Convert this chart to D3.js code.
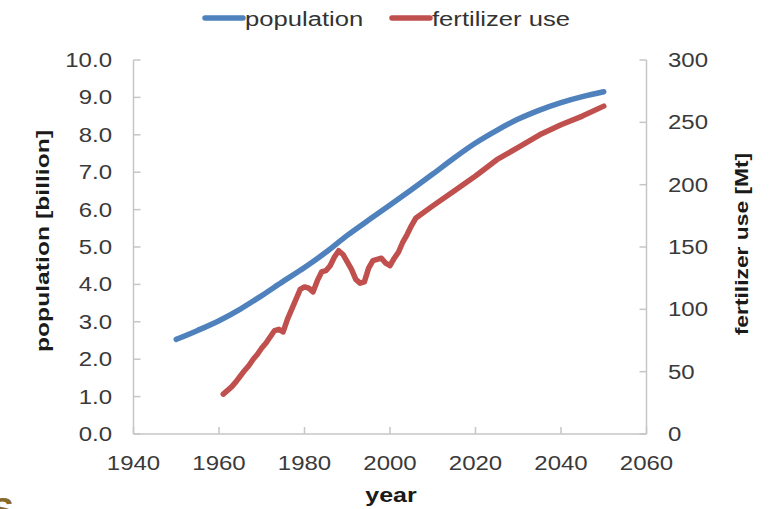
<!DOCTYPE html>
<html>
<head>
<meta charset="utf-8">
<script src="https://cdn.jsdelivr.net/npm/d3@7"></script>
<style>
  html, body { margin: 0; padding: 0; background: #fff; }
  svg { display: block; font-family: "Liberation Sans", Arial, sans-serif; }
</style>
</head>
<body>
<svg id="chart" width="772" height="509"></svg>
<script>
// ---- data ----
const popYears = [1950,1955,1960,1965,1970,1975,1980,1985,1990,1995,2000,2005,2010,2015,2020,2025,2030,2035,2040,2045,2050];
const popValues = [2.53,2.77,3.03,3.34,3.70,4.08,4.45,4.86,5.31,5.72,6.12,6.53,6.95,7.38,7.78,8.12,8.42,8.66,8.86,9.02,9.15];

const fertYears = [1961,1962,1963,1964,1965,1966,1967,1968,1969,1970,1971,1972,1973,1974,1975,1976,1977,1978,1979,1980,1981,1982,1983,1984,1985,1986,1987,1988,1989,1990,1991,1992,1993,1994,1995,1996,1997,1998,1999,2000,2001,2002,2003,2004,2005,2006,2010,2015,2020,2025,2030,2035,2040,2045,2050];
const fertValues = [32,35,38,42,46.5,51,55,60,64,69,73,78,83,84,82,92,100,108,116,118,117,114,123,130,131,135,142,147,144,138,132,124,121,122,133,139,140,141,137,135,141,146,154,160,167,173,183,195,207,220,230,240,248,255,263];

const xTicks = [1940,1960,1980,2000,2020,2040,2060];
const yLeftTicks = [0,1,2,3,4,5,6,7,8,9,10];
const yRightTicks = [0,50,100,150,200,250,300];

const seriesNames = ["population", "fertilizer use"];
const seriesColors = ["#4f81bd", "#c0504d"];

// ---- layout ----
const svg = d3.select("#chart");
const L = 133.5, R = 646.5, T = 60, B = 434;
const STRETCH = 1.2;

const x = d3.scaleLinear().domain([1940, 2060]).range([L, R]);
const yL = d3.scaleLinear().domain([0, 10]).range([B, T]);
const yR = d3.scaleLinear().domain([0, 300]).range([B, T]);

function stretch(sel, k) {
  sel.each(function() {
    const len = this.getComputedTextLength();
    d3.select(this).attr("textLength", len * (k || STRETCH)).attr("lengthAdjust", "spacingAndGlyphs");
  });
  return sel;
}

const axisColor = "#c6c6c6";
const tickColor = "#3a3a3a";

// axes lines
svg.append("line").attr("x1", L).attr("x2", L).attr("y1", T).attr("y2", B).attr("stroke", axisColor).attr("stroke-width", 1.5);
svg.append("line").attr("x1", R).attr("x2", R).attr("y1", T).attr("y2", B).attr("stroke", axisColor).attr("stroke-width", 1.5);
svg.append("line").attr("x1", L).attr("x2", R).attr("y1", B).attr("y2", B).attr("stroke", axisColor).attr("stroke-width", 1.5);

// left ticks (inward)
const gl = svg.append("g");
yLeftTicks.forEach(v => {
  gl.append("line").attr("x1", L).attr("x2", L + 7).attr("y1", yL(v)).attr("y2", yL(v)).attr("stroke", axisColor).attr("stroke-width", 1.5);
  const t = gl.append("text").attr("x", 112).attr("y", yL(v) + 7).attr("text-anchor", "end")
    .attr("font-size", 20).attr("fill", tickColor).text(d3.format(".1f")(v));
  stretch(t);
});

// right ticks (inward)
const gr = svg.append("g");
yRightTicks.forEach(v => {
  gr.append("line").attr("x1", R - 7).attr("x2", R).attr("y1", yR(v)).attr("y2", yR(v)).attr("stroke", axisColor).attr("stroke-width", 1.5);
  const t = gr.append("text").attr("x", 668).attr("y", yR(v) + 7).attr("text-anchor", "start")
    .attr("font-size", 20).attr("fill", tickColor).text(v);
  stretch(t);
});

// bottom ticks (inward)
const gb = svg.append("g");
xTicks.forEach(v => {
  gb.append("line").attr("x1", x(v)).attr("x2", x(v)).attr("y1", B - 7).attr("y2", B).attr("stroke", axisColor).attr("stroke-width", 1.5);
  const t = gb.append("text").attr("x", x(v)).attr("y", 470).attr("text-anchor", "middle")
    .attr("font-size", 20).attr("fill", tickColor).text(v);
  stretch(t);
});

// axis titles
stretch(svg.append("text").attr("x", 391).attr("y", 502).attr("text-anchor", "middle")
  .attr("font-size", 20).attr("font-weight", "bold").attr("fill", "#1a1a1a").text("year"), 1.25);
stretch(svg.append("text").attr("transform", "translate(49,241) rotate(-90)").attr("text-anchor", "middle")
  .attr("font-size", 19).attr("font-weight", "bold").attr("fill", "#1a1a1a").text("population [billion]"), 1.3);
stretch(svg.append("text").attr("transform", "translate(748,244) rotate(-90)").attr("text-anchor", "middle")
  .attr("font-size", 19).attr("font-weight", "bold").attr("fill", "#1a1a1a").text("fertilizer use [Mt]"), 1.2);

// lines
const popData = popYears.map((yr, i) => ({x: yr, y: popValues[i]}));
const fertData = fertYears.map((yr, i) => ({x: yr, y: fertValues[i]}));

svg.append("path").datum(popData)
  .attr("fill", "none").attr("stroke", seriesColors[0]).attr("stroke-width", 5.5)
  .attr("stroke-linecap", "round").attr("stroke-linejoin", "round")
  .attr("d", d3.line().x(d => x(d.x)).y(d => yL(d.y)).curve(d3.curveMonotoneX));

svg.append("path").datum(fertData)
  .attr("fill", "none").attr("stroke", seriesColors[1]).attr("stroke-width", 5.5)
  .attr("stroke-linecap", "round").attr("stroke-linejoin", "round")
  .attr("d", d3.line().x(d => x(d.x)).y(d => yR(d.y)));

// legend
const legX = [205, 392];
seriesNames.forEach((name, i) => {
  svg.append("line").attr("x1", legX[i]).attr("x2", legX[i] + 38).attr("y1", 18).attr("y2", 18)
    .attr("stroke", seriesColors[i]).attr("stroke-width", 5.5).attr("stroke-linecap", "round");
  stretch(svg.append("text").attr("x", legX[i] + 40).attr("y", 26).attr("font-size", 20)
    .attr("fill", "#333").text(name), 1.28);
});

// cropped letter artifact at bottom-left
svg.append("text").attr("x", -9).attr("y", 521).attr("font-size", 34).attr("font-weight", "bold")
  .attr("fill", "#8a6a2a").text("S");
</script>
</body>
</html>
